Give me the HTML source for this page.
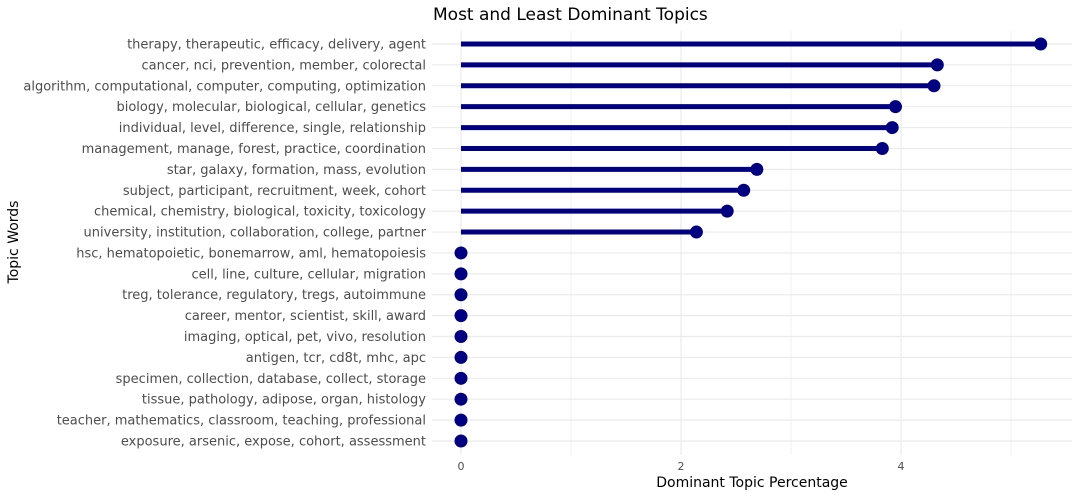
<!DOCTYPE html>
<html><head><meta charset="utf-8"><style>
body{margin:0;background:#fff;font-family:"Liberation Sans","DejaVu Sans",sans-serif}
svg text{font-family:"DejaVu Sans","Liberation Sans",sans-serif}
</style></head><body>
<svg id="c" width="1078" height="497" xmlns="http://www.w3.org/2000/svg">
<text x="433" y="20" font-size="17" fill="#000">Most and Least Dominant Topics</text>
<g id="grid"></g><g id="marks"></g><g id="labels"></g>
<text x="752" y="487" font-size="14" text-anchor="middle" fill="#000">Dominant Topic Percentage</text>
<text transform="translate(18,242) rotate(-90)" font-size="14" text-anchor="middle" fill="#000">Topic Words</text>
</svg>
<script>
const topics=["therapy, therapeutic, efficacy, delivery, agent","cancer, nci, prevention, member, colorectal","algorithm, computational, computer, computing, optimization","biology, molecular, biological, cellular, genetics","individual, level, difference, single, relationship","management, manage, forest, practice, coordination","star, galaxy, formation, mass, evolution","subject, participant, recruitment, week, cohort","chemical, chemistry, biological, toxicity, toxicology","university, institution, collaboration, college, partner","hsc, hematopoietic, bonemarrow, aml, hematopoiesis","cell, line, culture, cellular, migration","treg, tolerance, regulatory, tregs, autoimmune","career, mentor, scientist, skill, award","imaging, optical, pet, vivo, resolution","antigen, tcr, cd8t, mhc, apc","specimen, collection, database, collect, storage","tissue, pathology, adipose, organ, histology","teacher, mathematics, classroom, teaching, professional","exposure, arsenic, expose, cohort, assessment"];
const values=[5.27,4.33,4.30,3.95,3.92,3.83,2.69,2.57,2.42,2.14,0,0,0,0,0,0,0,0,0,0];
const xTicks=[0,2,4];
const xMinor=[1,3,5];
const NS="http://www.w3.org/2000/svg";
const X=v=>461+v*110;
const Y=i=>44+i*(441-44)/19;
function mk(t,a,p){const e=document.createElementNS(NS,t);for(const k in a)e.setAttribute(k,a[k]);p.appendChild(e);return e;}
const g=document.getElementById('grid'),m=document.getElementById('marks'),l=document.getElementById('labels');
xMinor.forEach(v=>{const e=mk('line',{x1:X(v),x2:X(v),y1:31,y2:455,stroke:'#f0f0f0','stroke-width':1},g);

});
xTicks.forEach(v=>{const e=mk('line',{x1:X(v),x2:X(v),y1:31,y2:455,stroke:'#ebebeb','stroke-width':1.2},g);


const t=mk('text',{x:X(v),y:470,'font-size':11,'text-anchor':'middle',fill:'#4d4d4d'},l);t.textContent=v;

});
topics.forEach((n,i)=>{const y=Y(i);
const gl=mk('line',{x1:432,x2:1072,y1:y,y2:y,stroke:'#ebebeb','stroke-width':1.2},g);


const t=mk('text',{x:426,y:y+4.5,'font-size':13,'text-anchor':'end',fill:'#4d4d4d'},l);t.textContent=n;


const s=mk('line',{x1:X(0),x2:X(values[i]),y1:y,y2:y,stroke:'#000080','stroke-width':5},m);


const c=mk('circle',{cx:X(values[i]),cy:y,r:6.5,fill:'#000080'},m);

});
</script>
</body></html>
